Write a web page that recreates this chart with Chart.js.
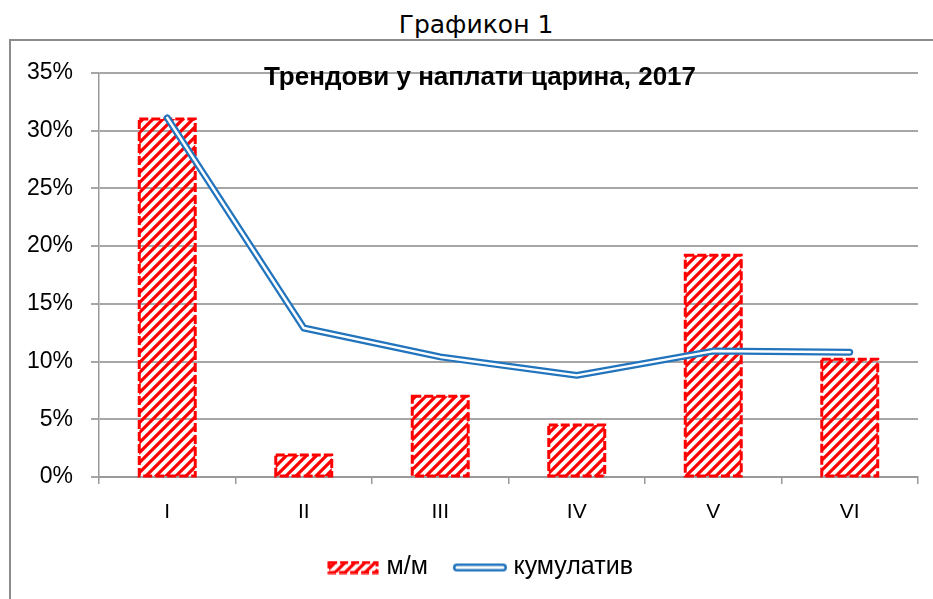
<!DOCTYPE html>
<html>
<head>
<meta charset="utf-8">
<script src="https://cdn.jsdelivr.net/npm/chart.js@4/dist/chart.umd.min.js"></script>
<style>
  html, body { margin: 0; padding: 0; background: #fff; overflow: hidden; }
  body { width: 933px; height: 599px; position: relative; }
  #caption {
    position: absolute; left: 0; top: 10px; width: 952px; text-align: center;
    font-family: 'DejaVu Sans', sans-serif; font-size: 25px; color: #000;
  }
  #frame {
    position: absolute; left: 9px; top: 39px; width: 940px; height: 600px;
    border: 2px solid #8c8c8c;
  }
  #wrap { position: absolute; left: 11px; top: 41px; width: 922px; height: 558px; }
</style>
</head>
<body>
<div id="caption">Графикон 1</div>
<div id="frame"></div>
<div id="wrap"><canvas id="chart"></canvas></div>
<script>
// ── data ──
const categories = ['I', 'II', 'III', 'IV', 'V', 'VI'];
const mmValues = [31.0, 1.9, 7.0, 4.5, 19.2, 10.2];
const cumulativeValues = [31.1, 12.9, 10.4, 8.8, 10.9, 10.8];
const seriesNames = ['м/м', 'кумулатив'];
const chartTitle = 'Трендови у наплати царина, 2017';

const RED = '#ff0000';
const BLUE = '#2274bd';
const FONT = "'Liberation Sans', Arial, sans-serif";

// ── hatch pattern ──
function makeHatch() {
  const c = document.createElement('canvas');
  c.width = 10; c.height = 10;
  const g = c.getContext('2d');
  g.strokeStyle = RED;
  g.lineWidth = 3.2;
  g.beginPath();
  g.moveTo(-5, 5); g.lineTo(5, -5);
  g.moveTo(0, 10); g.lineTo(10, 0);
  g.moveTo(5, 15); g.lineTo(15, 5);
  g.stroke();
  return document.createElement('canvas').getContext('2d').createPattern(c, 'repeat');
}
const hatch = makeHatch();

function barLegendIcon() {
  const c = document.createElement('canvas');
  c.width = 52; c.height = 14;
  const g = c.getContext('2d');
  g.fillStyle = hatch;
  g.fillRect(2, 2, 48, 10);
  g.strokeStyle = RED;
  g.lineWidth = 3;
  g.setLineDash([8, 3]);
  g.strokeRect(2, 2, 48, 10);
  return c;
}

function lineLegendIcon() {
  const c = document.createElement('canvas');
  c.width = 56; c.height = 12;
  const g = c.getContext('2d');
  g.lineCap = 'round';
  g.strokeStyle = BLUE; g.lineWidth = 8;
  g.beginPath(); g.moveTo(5, 6); g.lineTo(51, 6); g.stroke();
  g.strokeStyle = '#fff'; g.lineWidth = 3;
  g.beginPath(); g.moveTo(5, 6); g.lineTo(51, 6); g.stroke();
  return c;
}

// dashed outline around each bar
const barOutline = {
  id: 'barOutline',
  afterDatasetDraw(chart, args) {
    if (args.index !== 0) return;
    const ctx = chart.ctx;
    ctx.save();
    ctx.strokeStyle = RED;
    ctx.lineWidth = 3;
    ctx.setLineDash([9, 3]);
    args.meta.data.forEach(bar => {
      const p = bar.getProps(['x', 'y', 'base', 'width'], true);
      ctx.strokeRect(p.x - p.width / 2, p.y, p.width, p.base - p.y);
    });
    ctx.restore();
  }
};

// title drawn on top of the plot area
const innerTitle = {
  id: 'innerTitle',
  afterDraw(chart) {
    const ctx = chart.ctx;
    ctx.save();
    ctx.font = 'bold 26px ' + FONT;
    ctx.fillStyle = '#000';
    ctx.textAlign = 'center';
    ctx.textBaseline = 'middle';
    ctx.fillText(chartTitle, 469, 37);
    ctx.restore();
  }
};

// legend sits a little right of the canvas centre
const legendShift = {
  id: 'legendShift',
  afterLayout(chart) {
    chart.legend.left += 18;
    chart.legend.right += 18;
  }
};

new Chart(document.getElementById('chart'), {
  type: 'bar',
  data: {
    labels: categories,
    datasets: [
      {
        type: 'bar',
        label: seriesNames[0],
        data: mmValues,
        backgroundColor: hatch,
        borderWidth: 0,
        barPercentage: 0.41,
        categoryPercentage: 1,
        order: 3,
        pointStyle: barLegendIcon(),
      },
      {
        type: 'line',
        label: seriesNames[1],
        data: cumulativeValues,
        borderColor: BLUE,
        borderWidth: 7,
        borderCapStyle: 'round',
        borderJoinStyle: 'round',
        pointRadius: 0,
        tension: 0,
        fill: false,
        order: 2,
        pointStyle: lineLegendIcon(),
      },
      {
        type: 'line',
        label: 'inner',
        data: cumulativeValues,
        borderColor: '#ffffff',
        borderWidth: 2.5,
        borderCapStyle: 'round',
        borderJoinStyle: 'round',
        pointRadius: 0,
        tension: 0,
        fill: false,
        order: 1,
      }
    ]
  },
  options: {
    responsive: true,
    maintainAspectRatio: false,
    animation: false,
    layout: { padding: { top: 29, right: 15, left: 0, bottom: 9 } },
    plugins: {
      tooltip: { enabled: false },
      legend: {
        position: 'bottom',
        labels: {
          usePointStyle: true,
          pointStyleWidth: 42,
          padding: 31,
          color: '#000',
          font: { family: FONT, size: 25 },
          filter: item => item.datasetIndex !== 2,
          sort: (a, b) => a.datasetIndex - b.datasetIndex,
        }
      }
    },
    scales: {
      x: {
        afterFit: s => { s.height = 47; },
        grid: {
          offset: true,
          drawOnChartArea: false,
          drawTicks: true,
          tickLength: 7,
          color: '#9a9a9a',
          lineWidth: 1.5,
        },
        border: { color: '#9a9a9a', width: 2 },
        ticks: { color: '#000', padding: 16, font: { family: FONT, size: 21 } }
      },
      y: {
        min: 0,
        max: 35,
        afterFit: s => { s.width = 88; },
        grid: { color: '#a6a6a6', lineWidth: 2, tickLength: 8 },
        border: { color: '#9a9a9a', width: 1.5 },
        ticks: {
          stepSize: 5,
          padding: 18,
          color: '#000',
          font: { family: FONT, size: 23 },
          callback: v => v + '%'
        }
      }
    }
  },
  plugins: [barOutline, innerTitle, legendShift]
});
</script>
</body>
</html>
